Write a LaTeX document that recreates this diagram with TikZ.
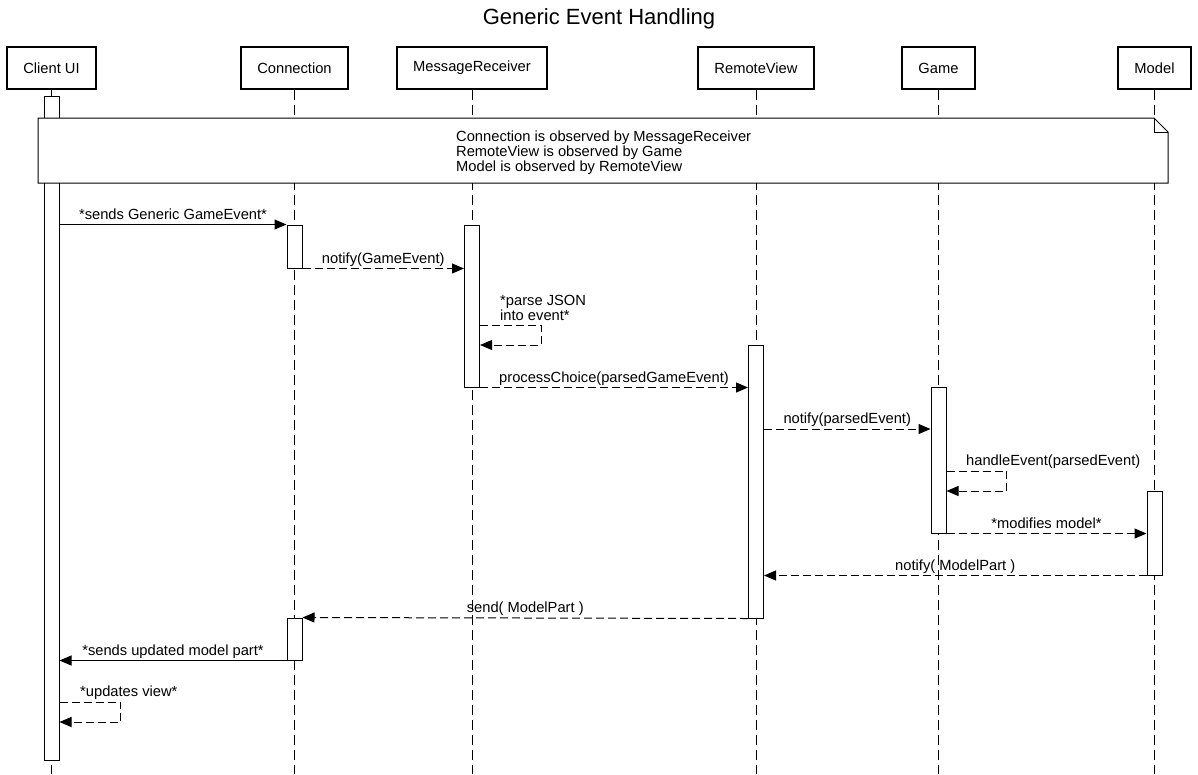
\documentclass[tikz,border=0pt]{standalone}
\usepackage{fontspec}
\setmainfont{Liberation Sans}
\usetikzlibrary{arrows.meta}

\begin{document}
\begin{tikzpicture}[x=1pt, y=-1pt, font=\fontsize{14.7}{15}\selectfont,
  actor/.style={draw, line width=2pt, minimum height=42pt, inner sep=0pt},
  act/.style={draw, fill=white, line width=1pt, minimum width=15pt, inner sep=0pt},
  lifeline/.style={line width=1pt, dash pattern=on 10pt off 5pt},
  call/.style={line width=1pt, -{Triangle[length=12pt, width=10pt]}},
  reply/.style={call, dash pattern=on 8pt off 4pt},
  lbl/.style={midway, anchor=base, yshift=5.5pt, inner sep=0pt}]
  \useasboundingbox (0,0) rectangle (1198,774);
  \coordinate (bottom) at (0,774);
  \node[font=\fontsize{22}{26}\selectfont, anchor=base] (title) at (599,24) {Generic Event Handling};
  % participants and their lifelines
  \foreach \n/\x/\w/\t in {cui/51.5/89/Client UI, conn/294.5/107/Connection, mr/472/150/MessageReceiver,
                           rv/756/116/RemoteView, game/938.5/73/Game, model/1154.5/73/Model}{
    \node[actor, minimum width=\w pt] (\n) at (\x,68) {\t};
    \draw[lifeline] (\n.south) -- (\n.south |- bottom);}
  % activations: name/participant/centre/height
  \foreach \a/\p/\y/\h in {cuiA/cui/428/664, connA1/conn/246.5/43, connA2/conn/639/42, mrA/mr/306/162,
                           rvA/rv/481.5/273, gameA/game/460/146, modelA/model/533/84}{
    \node[act, minimum height=\h pt] (\a) at (\p |- 0,\y) {};}
  % note over all lifelines
  \draw[line width=1pt, fill=white] (38,118) -- (1154,118) -- (1168,132) -- (1168,183) -- (38,183) -- cycle;
  \draw[line width=1pt] (1154,118) -- (1154,132) -- (1168,132);
  \node[anchor=west, align=left, inner sep=0pt] (note) at (456,153)
    {Connection is observed by MessageReceiver\\RemoteView is observed by Game\\Model is observed by RemoteView};
  % messages
  \draw[call] (cuiA.east |- connA1.north) -- (connA1.north west) node[lbl] {*sends Generic GameEvent*};
  \draw[reply] (connA1.south east) -- (mrA.west |- connA1.south) node[lbl] {notify(GameEvent)};
  \draw[reply] (mrA.east |- 0,325) -- ++(61,0) |- (mrA.east |- 0,345);
  \node[anchor=south west, align=left, inner sep=0pt] (parse) at (500,321) {*parse JSON\\into event*};
  \draw[reply] (mrA.south east) -- (rvA.west |- mrA.south) node[lbl] {processChoice(parsedGameEvent)};
  \draw[reply] (rvA.east |- 0,429) -- (gameA.west |- 0,429) node[lbl] {notify(parsedEvent)};
  \draw[reply] (gameA.east |- 0,471) -- ++(60,0) |- (gameA.east |- 0,491);
  \node[anchor=base west, inner sep=0pt] (handle) at (966,465) {handleEvent(parsedEvent)};
  \draw[reply] (gameA.south east) -- (modelA.west |- gameA.south) node[lbl] {*modifies model*};
  \draw[reply] (modelA.south west) -- (rvA.east |- modelA.south) node[lbl] {notify( ModelPart )};
  \draw[reply] (rvA.south west) -- (connA2.north east) node[lbl] {send( ModelPart )};
  \draw[call] (connA2.south west) -- (cuiA.east |- connA2.south) node[lbl] {*sends updated model part*};
  \draw[reply] (cuiA.east |- 0,702) -- ++(61,0) |- (cuiA.east |- 0,722);
  \node[anchor=base west, inner sep=0pt] (updates) at (80,696) {*updates view*};
\end{tikzpicture}
\end{document}
